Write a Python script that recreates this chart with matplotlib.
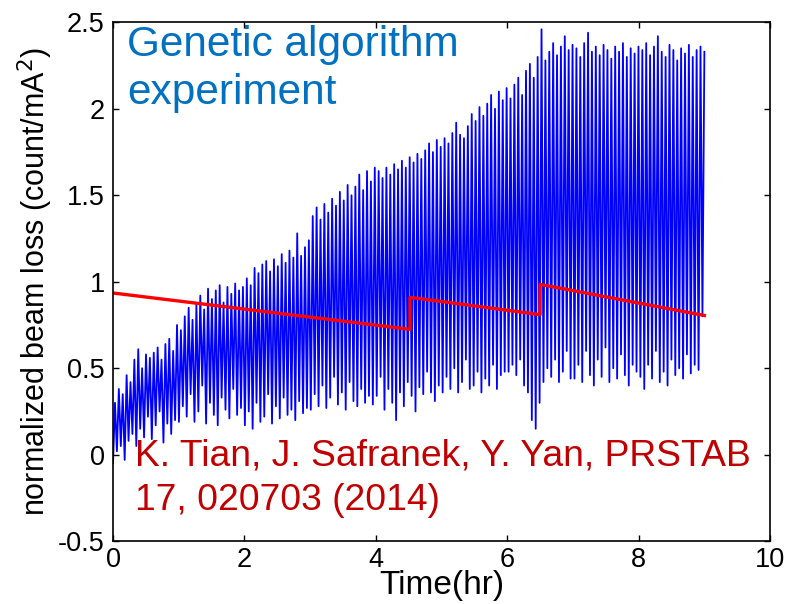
import numpy as np
import matplotlib.pyplot as plt

plt.rcParams['font.family'] = ['Liberation Sans', 'DejaVu Sans']

# -------------------
# Data
# -------------------
# beam loss: local maxima / minima of the fast oscillation, one row per hour (0-9 hr)
peaks = [
    0.30, 0.38, 0.35, 0.46, 0.42, 0.55, 0.61, 0.50, 0.58, 0.56, 0.59, 0.62, 0.55, 0.64, 0.67, 0.60, 0.75,
    0.72, 0.80, 0.85, 0.78, 0.87, 0.92, 0.84, 0.96, 0.90, 0.95, 0.98, 0.88, 0.97, 0.93, 0.99, 0.95, 0.97,
    1.02, 0.98, 1.08, 1.05, 1.10, 1.12, 1.06, 1.13, 1.09, 1.16, 1.11, 1.18, 1.14, 1.28, 1.15, 1.20, 1.24,
    1.38, 1.43, 1.36, 1.45, 1.40, 1.48, 1.44, 1.52, 1.47, 1.56, 1.50, 1.55, 1.62, 1.53, 1.64, 1.58, 1.66,
    1.64, 1.60, 1.66, 1.62, 1.68, 1.65, 1.70, 1.66, 1.72, 1.69, 1.74, 1.71, 1.76, 1.80, 1.75, 1.82, 1.78,
    1.83, 1.80, 1.86, 1.92, 1.85, 1.83, 1.90, 1.97, 1.93, 2.01, 1.96, 2.03, 2.08, 2.00, 2.10, 2.05, 2.12,
    2.06, 2.14, 2.18, 2.08, 2.22, 2.26, 2.18, 2.30, 2.46, 2.28, 2.33, 2.38, 2.31, 2.36, 2.42, 2.34, 2.37,
    2.35, 2.30, 2.38, 2.44, 2.33, 2.36, 2.31, 2.37, 2.34, 2.29, 2.36, 2.33, 2.38, 2.30, 2.35, 2.32, 2.36,
    2.34, 2.38, 2.31, 2.36, 2.42, 2.33, 2.30, 2.37, 2.34, 2.28, 2.35, 2.32, 2.37, 2.30, 2.34, 2.36, 2.33,
]
troughs = [
    -0.05, 0.02, 0.05, -0.03, 0.08, 0.12, 0.05, 0.15, 0.10, 0.22, 0.09, 0.17, 0.25, 0.07, 0.18, 0.12, 0.20,
    0.19, 0.28, 0.22, 0.35, 0.19, 0.25, 0.40, 0.18, 0.30, 0.23, 0.17, 0.33, 0.26, 0.21, 0.38, 0.23, 0.27,
    0.17, 0.25, 0.15, 0.30, 0.19, 0.22, 0.35, 0.18, 0.28, 0.21, 0.33, 0.23, 0.26, 0.20, 0.31, 0.24, 0.27,
    0.26, 0.35, 0.28, 0.40, 0.27, 0.33, 0.45, 0.29, 0.36, 0.26, 0.42, 0.31, 0.28, 0.38, 0.30, 0.34, 0.29,
    0.34, 0.45, 0.26, 0.38, 0.30, 0.20, 0.36, 0.28, 0.42, 0.34, 0.25, 0.39, 0.35, 0.48, 0.36, 0.31, 0.40,
    0.36, 0.45, 0.38, 0.50, 0.36, 0.42, 0.55, 0.38, 0.40, 0.48, 0.36, 0.44, 0.40, 0.52, 0.38, 0.46, 0.48,
    0.48, 0.52, 0.46, 0.55, 0.40, 0.36, 0.20, 0.15, 0.30, 0.42, 0.50, 0.45, 0.55, 0.42, 0.48, 0.60, 0.44,
    0.44, 0.52, 0.42, 0.60, 0.46, 0.40, 0.55, 0.45, 0.62, 0.42, 0.50, 0.44, 0.58, 0.46, 0.40, 0.52, 0.48,
    0.45, 0.38, 0.52, 0.44, 0.60, 0.42, 0.48, 0.40, 0.55, 0.46, 0.50, 0.44, 0.58, 0.47, 0.52, 0.49, 0.80,
]

# red reference line (piecewise, jumps at 4.5 and 6.5 hr)
ref_t = [0.0, 4.52, 4.52, 6.5, 6.5, 9.0]
ref_y = [0.935, 0.725, 0.91, 0.81, 0.985, 0.805]

xticks = [0, 2, 4, 6, 8, 10]
yticks = [-0.5, 0, 0.5, 1, 1.5, 2, 2.5]
yticklabels = ["-0.5", "0", "0.5", "1", "1.5", "2", "2.5"]

# interleave minima and maxima into one trace
loss = np.empty(2 * len(peaks))
loss[0::2] = troughs
loss[1::2] = peaks
t = np.linspace(0, 9, len(loss))

# -------------------
# Plot
# -------------------
fig = plt.figure(figsize=(7.85, 6.04), dpi=100)
ax = fig.add_axes([0.144, 0.104, 0.837, 0.859])

ax.plot(t, loss, color="#0000ff", lw=1.3)
ax.plot(ref_t, ref_y, color="#ff0000", lw=2.4)

ax.set_xlim(0, 10)
ax.set_ylim(-0.5, 2.5)
ax.set_xticks(xticks)
ax.set_xticklabels([str(v) for v in xticks])
ax.set_yticks(yticks)
ax.set_yticklabels(yticklabels)
ax.tick_params(direction="in", length=4, width=1, top=True, right=True,
               labelsize=19.5)
ax.tick_params(axis="y", pad=6)
ax.tick_params(axis="x", pad=4)
for s in ax.spines.values():
    s.set_linewidth(1.2)

ax.set_xlabel("Time(hr)", fontsize=24, labelpad=-2)
ax.set_ylabel("normalized beam loss (count/mA$^2$)", fontsize=22, labelpad=2)

ax.text(0.21, 2.305, "Genetic algorithm", color="#0070c0", fontsize=30.5, va="baseline")
ax.text(0.21, 2.03, "experiment", color="#0070c0", fontsize=30.5, va="baseline")
ax.text(0.33, -0.06, "K. Tian, J. Safranek, Y. Yan, PRSTAB", color="#c00000",
        fontsize=26.8, va="baseline")
ax.text(0.33, -0.32, "17, 020703 (2014)", color="#c00000", fontsize=26.8, va="baseline")

fig.savefig("out.png", dpi=100)
